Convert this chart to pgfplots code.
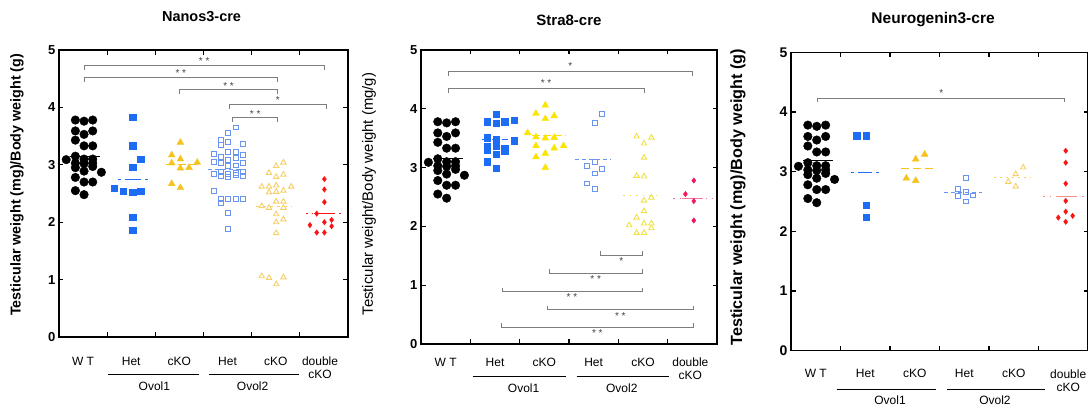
\documentclass[border=0pt]{standalone}
\usepackage{fontspec}
\setmainfont{Liberation Sans}
\usepackage{pgfplots}
\pgfplotsset{compat=1.18}

\definecolor{hetA}{RGB}{28,108,245}
\definecolor{hetB}{RGB}{105,148,240}
\definecolor{koA}{RGB}{245,195,30}
\definecolor{koB}{RGB}{245,208,105}
\definecolor{koA2}{RGB}{250,228,0}
\definecolor{koB2}{RGB}{240,226,70}
\definecolor{dko}{RGB}{250,20,20}
\definecolor{dko2}{RGB}{240,25,90}
\definecolor{dko3}{RGB}{250,140,140}
\definecolor{brkgray}{RGB}{125,125,125}

\pgfplotsset{
  panel/.style={scale only axis, xmin=0, xmax=6, ymin=0, ymax=5,
    xtick={1,2,3,4,5}, xticklabels={}, ytick={0,1,2,3,4,5}, clip=false,
    axis line style={line width=1.1pt}, every tick/.style={black, line width=1.1pt},
    major tick length=4.5pt, tick align=inside,
    /pgf/number format/assume math mode=true,
    yticklabel style={font=\bfseries\fontsize{13}{13}\selectfont}},
  wt/.style={only marks, mark=*, mark size=4.3pt, black},
  hetfill/.style={only marks, mark=square*, mark size=3.2pt, color=#1},
  hetopen/.style={only marks, mark=square, mark size=2.4pt, color=#1, mark options={line width=0.9pt}},
  kofill/.style={only marks, mark=triangle*, mark size=3.9pt, color=#1},
  koopen/.style={only marks, mark=triangle, mark size=3.1pt, color=#1, mark options={line width=0.9pt}},
  dkofill/.style={only marks, mark=diamond*, mark size=2.7pt, color=#1},
  med/.style={line width=1.1pt, color=#1, forget plot},
  brk/.style={brkgray, line width=0.8pt, forget plot},
}
\tikzset{stars/.style={font=\fontsize{10}{10}\selectfont, text=black!75, inner sep=0pt},
  cat/.style={font=\fontsize{12}{13}\selectfont, inner sep=0pt, align=center},
  ttl/.style={font=\bfseries\fontsize{15}{15}\selectfont},
  yl/.style={rotate=90, inner sep=0pt}}

% x1, x2, bar y, end y, label y, label
\newcommand\brk[6]{%
  \addplot[brk] coordinates {(#1,#4) (#1,#3) (#2,#3) (#2,#4)};
  \node[stars] at (axis cs:{(#1+#2)/2},#5) {#6};}

% group names under the x axis
\newcommand\catnodes[1]{%
  \node[cat] at ([yshift=#1]axis cs:0.5,0) {W T};
  \node[cat] at ([yshift=#1]axis cs:1.5,0) {Het};
  \node[cat] at ([yshift=#1]axis cs:2.5,0) {cKO};
  \node[cat] at ([yshift=#1]axis cs:3.5,0) {Het};
  \node[cat] at ([yshift=#1]axis cs:4.5,0) {cKO};}

% wild type, same animals in all three panels
\newcommand\wtdots{%
  \addplot[wt] coordinates {
    (0.34,3.78)(0.52,3.76)(0.70,3.78)
    (0.34,3.59)(0.70,3.59)(0.52,3.53)
    (0.34,3.43)(0.52,3.33)(0.70,3.33)
    (0.15,3.09)(0.34,3.15)(0.52,3.10)(0.70,3.10)
    (0.34,3.03)(0.52,3.02)(0.70,3.03)
    (0.34,2.95)(0.70,2.97)
    (0.52,2.89)(0.88,2.87)
    (0.34,2.78)
    (0.52,2.70)(0.70,2.70)
    (0.34,2.55)(0.52,2.48)};}

\begin{document}
\begin{tikzpicture}
\useasboundingbox (0,0) rectangle (1088pt,407pt);

% ---------------- Nanos3-cre ----------------
\begin{axis}[panel, at={(59pt,70pt)}, width=289pt, height=287pt]
\wtdots
\addplot[med=black] coordinates {(0.23,3.15) (0.85,3.15)};
\addplot[hetfill=hetA] coordinates {(1.53,3.83)(1.53,3.33)(1.70,3.10)(1.53,2.96)(1.15,2.59)(1.33,2.54)(1.53,2.52)(1.70,2.54)(1.53,2.09)(1.53,1.86)};
\addplot[med=hetA, dash pattern=on 3pt off 4pt on 16pt off 4pt] coordinates {(1.22,2.75) (1.86,2.75)};
\addplot[kofill=koA] coordinates {(2.52,3.39)(2.34,3.17)(2.52,3.10)(2.34,3.03)(2.52,2.94)(2.70,2.95)(2.87,3.04)(2.34,2.67)(2.52,2.60)};
\addplot[med=koA, dash pattern=on 8pt off 4pt] coordinates {(2.23,3.00) (2.92,3.00)};
\addplot[hetopen=hetB] coordinates {
  (3.67,3.65)(3.51,3.55)(3.36,3.43)(3.36,3.34)(3.51,3.40)(3.82,3.37)
  (3.21,3.19)(3.51,3.23)(3.67,3.23)(3.36,3.14)(3.67,3.12)(3.82,3.17)
  (3.21,3.05)(3.36,3.03)(3.51,3.08)(3.67,2.99)(3.82,3.03)(3.51,2.98)
  (3.21,2.84)(3.36,2.87)(3.36,2.80)(3.51,2.84)(3.51,2.79)(3.67,2.86)(3.67,2.82)(3.82,2.87)(3.82,2.81)
  (3.21,2.55)(3.36,2.40)(3.36,2.33)(3.51,2.40)(3.67,2.40)(3.82,2.41)
  (3.51,2.16)(3.51,1.88)};
\addplot[med=hetB, dash pattern=on 4pt off 3pt] coordinates {(3.10,2.92) (3.86,2.92)};
\addplot[koopen=koB] coordinates {
  (4.66,3.04)(4.51,2.98)(4.36,2.86)(4.66,2.83)(4.51,2.79)
  (4.21,2.62)(4.36,2.62)(4.51,2.64)(4.82,2.62)
  (4.36,2.52)(4.51,2.53)(4.66,2.55)
  (4.51,2.36)(4.66,2.36)(4.21,2.28)(4.36,2.25)(4.66,2.25)
  (4.51,2.14)(4.66,2.05)(4.51,2.00)(4.51,1.81)
  (4.21,1.06)(4.36,1.03)(4.66,1.04)(4.51,0.92)};
\addplot[med=koB, dash pattern=on 3pt off 4pt] coordinates {(4.09,2.27) (4.82,2.27)};
\addplot[dkofill=dko] coordinates {(5.51,2.75)(5.51,2.57)(5.51,2.35)(5.35,2.15)(5.66,2.04)(5.51,2.00)(5.21,1.95)(5.66,1.93)(5.35,1.82)(5.51,1.82)};
\addplot[med=dko, dash pattern=on 1.5pt off 4pt] coordinates {(5.13,2.15) (5.88,2.15)};
\addplot[med=dko] coordinates {(5.30,2.15) (5.72,2.15)};
\brk{0.52}{5.51}{4.73}{4.66}{4.80}{* *}
\brk{0.52}{4.54}{4.52}{4.45}{4.59}{* *}
\brk{2.50}{4.54}{4.31}{4.24}{4.38}{* *}
\brk{3.53}{5.56}{4.05}{3.98}{4.12}{*}
\brk{3.61}{4.54}{3.82}{3.75}{3.89}{* *}
\node[ttl, font=\bfseries\fontsize{14.5}{14.5}\selectfont] at ([yshift=33pt]axis cs:2.96,5) {Nanos3-cre};
\node[yl, font=\bfseries\fontsize{14.3}{14.3}\selectfont] at ([xshift=-42pt]axis cs:0,2.65) {Testicular weight (mg)/Body weight (g)};
\catnodes{-24.7pt}
\node[cat] at ([yshift=-31pt]axis cs:5.42,0) {double\\cKO};
\draw[line width=0.8pt] ([yshift=-37pt]axis cs:1.01,0) -- ([yshift=-37pt]axis cs:2.90,0);
\draw[line width=0.8pt] ([yshift=-37pt]axis cs:3.11,0) -- ([yshift=-37pt]axis cs:4.99,0);
\node[cat] at ([yshift=-49pt]axis cs:1.98,0) {Ovol1};
\node[cat] at ([yshift=-49pt]axis cs:4.02,0) {Ovol2};
\end{axis}

% ---------------- Stra8-cre ----------------
\begin{axis}[panel, at={(421pt,63pt)}, width=296pt, height=294pt]
\wtdots
\addplot[med=black] coordinates {(0.25,3.16) (0.86,3.16)};
\addplot[hetfill=hetA] coordinates {(1.52,3.91)(1.34,3.78)(1.52,3.76)(1.70,3.78)(1.89,3.81)(1.34,3.51)(1.52,3.48)(1.89,3.46)(1.34,3.36)(1.52,3.36)(1.70,3.33)(1.34,3.30)(1.52,3.23)(1.70,3.28)(1.34,3.10)(1.52,2.99)};
\addplot[med=hetA, dash pattern=on 6pt off 4pt] coordinates {(1.23,3.48) (1.81,3.48)};
\addplot[kofill=koA2] coordinates {(2.52,4.06)(2.33,3.92)(2.70,3.88)(2.52,3.83)(2.16,3.59)(2.33,3.52)(2.52,3.50)(2.70,3.51)(2.33,3.37)(2.89,3.37)(2.70,3.33)(2.52,3.24)(2.33,3.18)(2.52,3.00)};
\addplot[med=koA2, dash pattern=on 8pt off 3pt] coordinates {(2.25,3.54) (2.92,3.54)};
\addplot[hetopen=hetB] coordinates {(3.67,3.91)(3.52,3.76)(3.52,3.10)(3.37,3.03)(3.67,2.98)(3.52,2.90)(3.37,2.73)(3.52,2.64)};
\addplot[med=hetB, dash pattern=on 4pt off 3pt] coordinates {(3.12,3.14) (3.83,3.14)};
\addplot[koopen=koB2] coordinates {(4.37,3.53)(4.67,3.51)(4.52,3.41)(4.52,3.17)(4.37,2.86)(4.52,2.85)(4.67,2.49)(4.52,2.44)(4.52,2.26)(4.37,2.15)(4.22,2.02)(4.52,2.05)(4.67,2.05)(4.67,1.97)(4.37,1.89)(4.52,1.89)};
\addplot[med=koB2, dash pattern=on 1.5pt off 5pt] coordinates {(4.10,2.53) (4.81,2.53)};
\addplot[dkofill=dko2] coordinates {(5.53,2.78)(5.36,2.55)(5.53,2.43)(5.53,2.10)};
\addplot[med=dko2!60, dash pattern=on 1.5pt off 5pt] coordinates {(5.11,2.48) (5.92,2.48)};
\addplot[med=dko2!60] coordinates {(5.30,2.48) (5.72,2.48)};
\brk{0.55}{5.50}{4.64}{4.56}{4.73}{*}
\brk{0.55}{4.52}{4.35}{4.27}{4.44}{* *}
\brk{3.64}{4.48}{1.51}{1.58}{1.41}{*}
\brk{2.60}{4.48}{1.20}{1.27}{1.10}{* *}
\brk{1.64}{4.48}{0.89}{0.96}{0.79}{* *}
\brk{2.56}{5.52}{0.58}{0.65}{0.48}{* *}
\brk{1.63}{5.52}{0.28}{0.35}{0.18}{* *}
\node[ttl] at ([yshift=30pt]axis cs:3.0,5) {Stra8-cre};
\node[yl, font=\fontsize{14.9}{14.9}\selectfont] at ([xshift=-52pt]axis cs:0,2.55) {Testicular weight/Body weight (mg/g)};
\catnodes{-18.7pt}
\node[cat] at ([yshift=-25pt]axis cs:5.46,0) {double\\cKO};
\draw[line width=0.8pt] ([yshift=-32pt]axis cs:1.06,0) -- ([yshift=-32pt]axis cs:2.94,0);
\draw[line width=0.8pt] ([yshift=-32pt]axis cs:3.16,0) -- ([yshift=-32pt]axis cs:5.02,0);
\node[cat] at ([yshift=-44pt]axis cs:2.08,0) {Ovol1};
\node[cat] at ([yshift=-44pt]axis cs:4.07,0) {Ovol2};
\end{axis}

% ---------------- Neurogenin3-cre ----------------
\begin{axis}[panel, at={(791pt,56.3pt)}, width=297pt, height=298.4pt,
  yticklabel style={font=\bfseries\fontsize{14}{14}\selectfont}]
\wtdots
\addplot[med=black] coordinates {(0.24,3.18) (0.85,3.18)};
\addplot[hetfill=hetA] coordinates {(1.33,3.60)(1.52,3.60)(1.52,2.44)(1.52,2.24)};
\addplot[med=hetA, dash pattern=on 3pt off 4pt on 14pt off 4pt] coordinates {(1.22,2.98) (1.86,2.98)};
\addplot[kofill=koA] coordinates {(2.52,3.21)(2.70,3.29)(2.33,2.89)(2.52,2.85)};
\addplot[med=koA, dash pattern=on 8pt off 4pt] coordinates {(2.22,3.06) (2.94,3.06)};
\addplot[hetopen=hetB] coordinates {(3.53,2.89)(3.38,2.71)(3.53,2.66)(3.68,2.60)(3.38,2.59)(3.53,2.50)};
\addplot[med=hetB, dash pattern=on 4pt off 3pt] coordinates {(3.10,2.65) (3.85,2.65)};
\addplot[koopen=koB] coordinates {(4.69,3.07)(4.54,2.96)(4.39,2.83)(4.54,2.75)};
\addplot[med=koB, dash pattern=on 2pt off 4pt] coordinates {(4.10,2.90) (4.84,2.90)};
\addplot[dkofill=dko] coordinates {(5.55,3.35)(5.55,3.15)(5.55,2.80)(5.55,2.51)(5.55,2.33)(5.40,2.23)(5.69,2.26)(5.55,2.16)};
\addplot[med=dko3, dash pattern=on 1.5pt off 5pt] coordinates {(5.10,2.59) (5.95,2.59)};
\addplot[med=dko3] coordinates {(5.35,2.59) (5.75,2.59)};
\brk{0.54}{5.53}{4.23}{4.17}{4.32}{*}
\node[ttl, font=\bfseries\fontsize{15.5}{15.5}\selectfont] at ([yshift=33pt]axis cs:2.87,5) {Neurogenin3-cre};
\node[yl, font=\bfseries\fontsize{16.2}{16.2}\selectfont] at ([xshift=-53pt]axis cs:0,2.57) {Testicular weight (mg)/Body weight (g)};
\catnodes{-22.7pt}
\node[cat] at ([yshift=-30pt]axis cs:5.6,0) {double\\cKO};
\draw[line width=0.8pt] ([yshift=-38.7pt]axis cs:0.92,0) -- ([yshift=-38.7pt]axis cs:2.93,0);
\draw[line width=0.8pt] ([yshift=-38.7pt]axis cs:3.15,0) -- ([yshift=-38.7pt]axis cs:5.13,0);
\node[cat] at ([yshift=-50pt]axis cs:2.0,0) {Ovol1};
\node[cat] at ([yshift=-50pt]axis cs:4.12,0) {Ovol2};
\end{axis}
\end{tikzpicture}
\end{document}
